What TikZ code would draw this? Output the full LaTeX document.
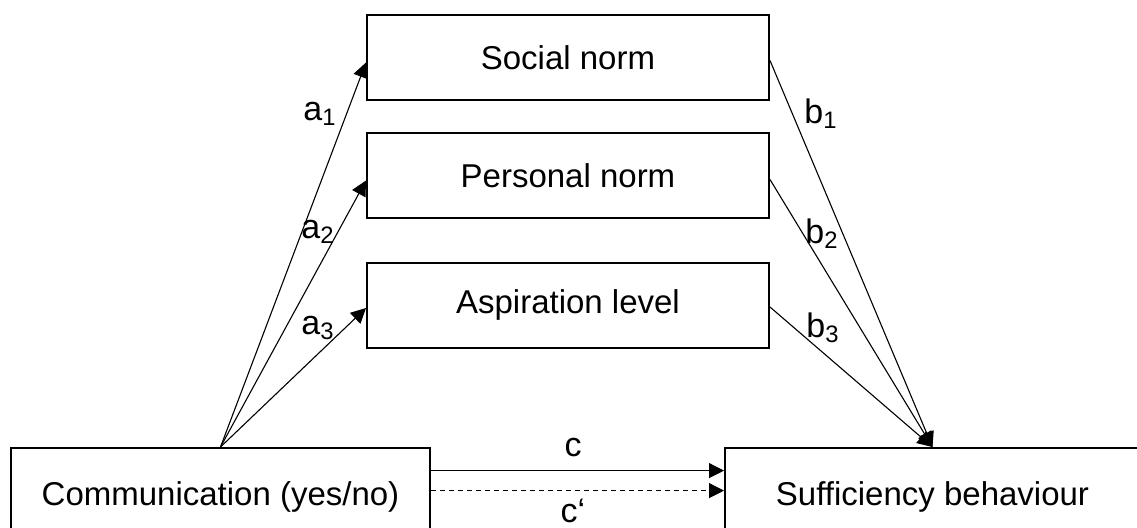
\documentclass[tikz,border=0pt]{standalone}
\usepackage{fontspec}
\setmainfont{Liberation Sans}
\usetikzlibrary{arrows.meta}
\begin{document}
\begin{tikzpicture}[x=0.5pt,y=-0.5pt,
  font=\fontsize{16.5}{19}\selectfont,
  varbox/.style={draw,line width=1pt,inner sep=0pt,minimum width=201pt,minimum height=42.5pt},
  endbox/.style={draw,line width=1pt,inner sep=0pt,minimum height=49pt},
  link/.style={line width=0.55pt,-{Triangle[length=7.5pt,width=7.5pt]}},
  lbl/.style={inner sep=0pt,font=\fontsize{17}{19}\selectfont}]
\useasboundingbox (0,0) rectangle (1137,527);
\clip (0,0) rectangle (1137,527);

% mediators
\node[varbox] (sn) at (568,57.5) {Social norm};
\node[varbox] (pn) at (568,175.5) {Personal norm};
\node[varbox] (al) at (568,305) {Aspiration level};

% predictor and outcome
\node[endbox,minimum width=209.5pt] (com) at (220.5,497) {Communication (yes/no)};
\node[endbox,minimum width=207.5pt] (suf) at (932.5,497) {Sufficiency behaviour};

% a paths
\draw[link] (com.north) -- ([yshift=-2.5pt]sn.west);
\draw[link] (com.north) -- ([yshift=-2.5pt]pn.west);
\draw[link] (com.north) -- ([yshift=-1.5pt]al.west);

% b paths
\draw[link] ([yshift=-1.5pt]sn.east) -- (suf.north);
\draw[link] ([yshift=-2pt]pn.east) -- (suf.north);
\draw[link] ([yshift=-1pt]al.east) -- (suf.north);

% direct and total effect
\draw[link] ([yshift=13.2pt]com.east) -- ([yshift=13.2pt]suf.west);
\draw[link,dash pattern=on 2.5pt off 2pt] ([yshift=3.2pt]com.east) -- ([yshift=3.2pt]suf.west);

% path labels
\node[lbl] (la1) at (320,114) {a\textsubscript{1}};
\node[lbl] (la2) at (318,232) {a\textsubscript{2}};
\node[lbl] (la3) at (318,328) {a\textsubscript{3}};
\node[lbl] (lb1) at (821,114) {b\textsubscript{1}};
\node[lbl] (lb2) at (822,234) {b\textsubscript{2}};
\node[lbl] (lb3) at (823,328) {b\textsubscript{3}};
\node[lbl] (lc) at (573,448) {c};
\node[lbl] (lcp) at (573,511) {c‘};
\end{tikzpicture}
\end{document}
